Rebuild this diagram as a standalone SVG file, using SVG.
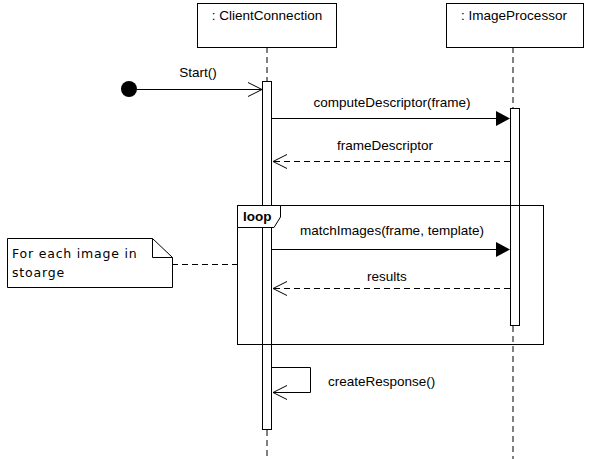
<svg xmlns="http://www.w3.org/2000/svg" width="589" height="459" viewBox="0 0 589 459">
<style>
text{font-family:"Liberation Sans",Arial,sans-serif;font-size:13.5px;fill:#000}
.box{fill:#fff;stroke:#000;stroke-width:1}
.ll{stroke:#000;stroke-width:1;stroke-dasharray:6,4;fill:none}
.msg{stroke:#000;stroke-width:1;fill:none}
.ret{stroke:#000;stroke-width:1;fill:none;stroke-dasharray:6,4}
.open{stroke:#000;stroke-width:1;fill:none}
.note{font-family:"DejaVu Sans",sans-serif;font-size:12.5px;letter-spacing:0.8px}
</style>
<rect width="589" height="459" fill="#fff"/>
<g id="lifeline-client">
<line class="ll" x1="267" y1="47" x2="267" y2="81"/>
<line class="ll" x1="267" y1="430" x2="267" y2="459"/>
<rect class="box" x="197.5" y="3.5" width="139" height="44"/>
<text x="267" y="20" text-anchor="middle">: ClientConnection</text>
</g>
<g id="lifeline-image">
<line class="ll" x1="513" y1="47" x2="513" y2="108"/>
<line class="ll" x1="513" y1="326" x2="513" y2="459"/>
<rect class="box" x="446.5" y="3.5" width="137" height="44"/>
<text x="514" y="20" text-anchor="middle">: ImageProcessor</text>
</g>
<g id="activation-client">
<rect class="box" x="262.5" y="81.5" width="9" height="348"/>
</g>
<g id="activation-image">
<rect class="box" x="510.5" y="108.5" width="9" height="217"/>
</g>
<g id="loop-frame">
<rect x="237.5" y="205.5" width="306" height="139" fill="none" stroke="#000"/>
<path d="M237.5 205.5 H280.5 V217 L274 227.5 H237.5 Z" fill="#fff" stroke="#000"/>
<text x="243" y="221" font-weight="bold">loop</text>
</g>
<g id="start">
<circle cx="129" cy="89" r="8" fill="#000"/>
</g>
<g id="note">
<path d="M7.5 238.5 H152.5 L172.5 257.5 V287.5 H7.5 Z" fill="#fff" stroke="#000"/>
<path d="M152.5 238.5 V257.5 H172.5" fill="none" stroke="#000"/>
<text class="note" x="12" y="258">For each image in</text>
<text class="note" x="12" y="277">stoarge</text>
</g>
<g id="connectors">
<line class="msg" x1="137" y1="89.5" x2="262" y2="89.5"/>
<path class="open" d="M248 82.5 L262 89.5 L248 96.5"/>
<text x="198" y="77" text-anchor="middle">Start()</text>

<line class="msg" x1="272" y1="118.5" x2="500" y2="118.5"/>
<path d="M496 111 L510 118.5 L496 126 Z" fill="#000"/>
<text x="392" y="107" text-anchor="middle">computeDescriptor(frame)</text>

<line class="ret" x1="510" y1="161.5" x2="273" y2="161.5"/>
<path class="open" d="M287 154.5 L273 161.5 L287 168.5"/>
<text x="385" y="150" text-anchor="middle">frameDescriptor</text>

<line class="msg" x1="272" y1="249.5" x2="500" y2="249.5"/>
<path d="M496 242 L510 249.5 L496 257 Z" fill="#000"/>
<text x="392" y="235" text-anchor="middle">matchImages(frame, template)</text>

<line class="ret" x1="510" y1="288.5" x2="273" y2="288.5"/>
<path class="open" d="M287 281.5 L273 288.5 L287 295.5"/>
<text x="387" y="281" text-anchor="middle">results</text>

<path class="msg" d="M272 367.5 H310.5 V392.5 H273"/>
<path class="open" d="M287 385.5 L273 392.5 L287 399.5"/>
<text x="328" y="386">createResponse()</text>

<line class="ret" x1="172" y1="264.5" x2="237" y2="264.5"/>
</g>
</svg>
